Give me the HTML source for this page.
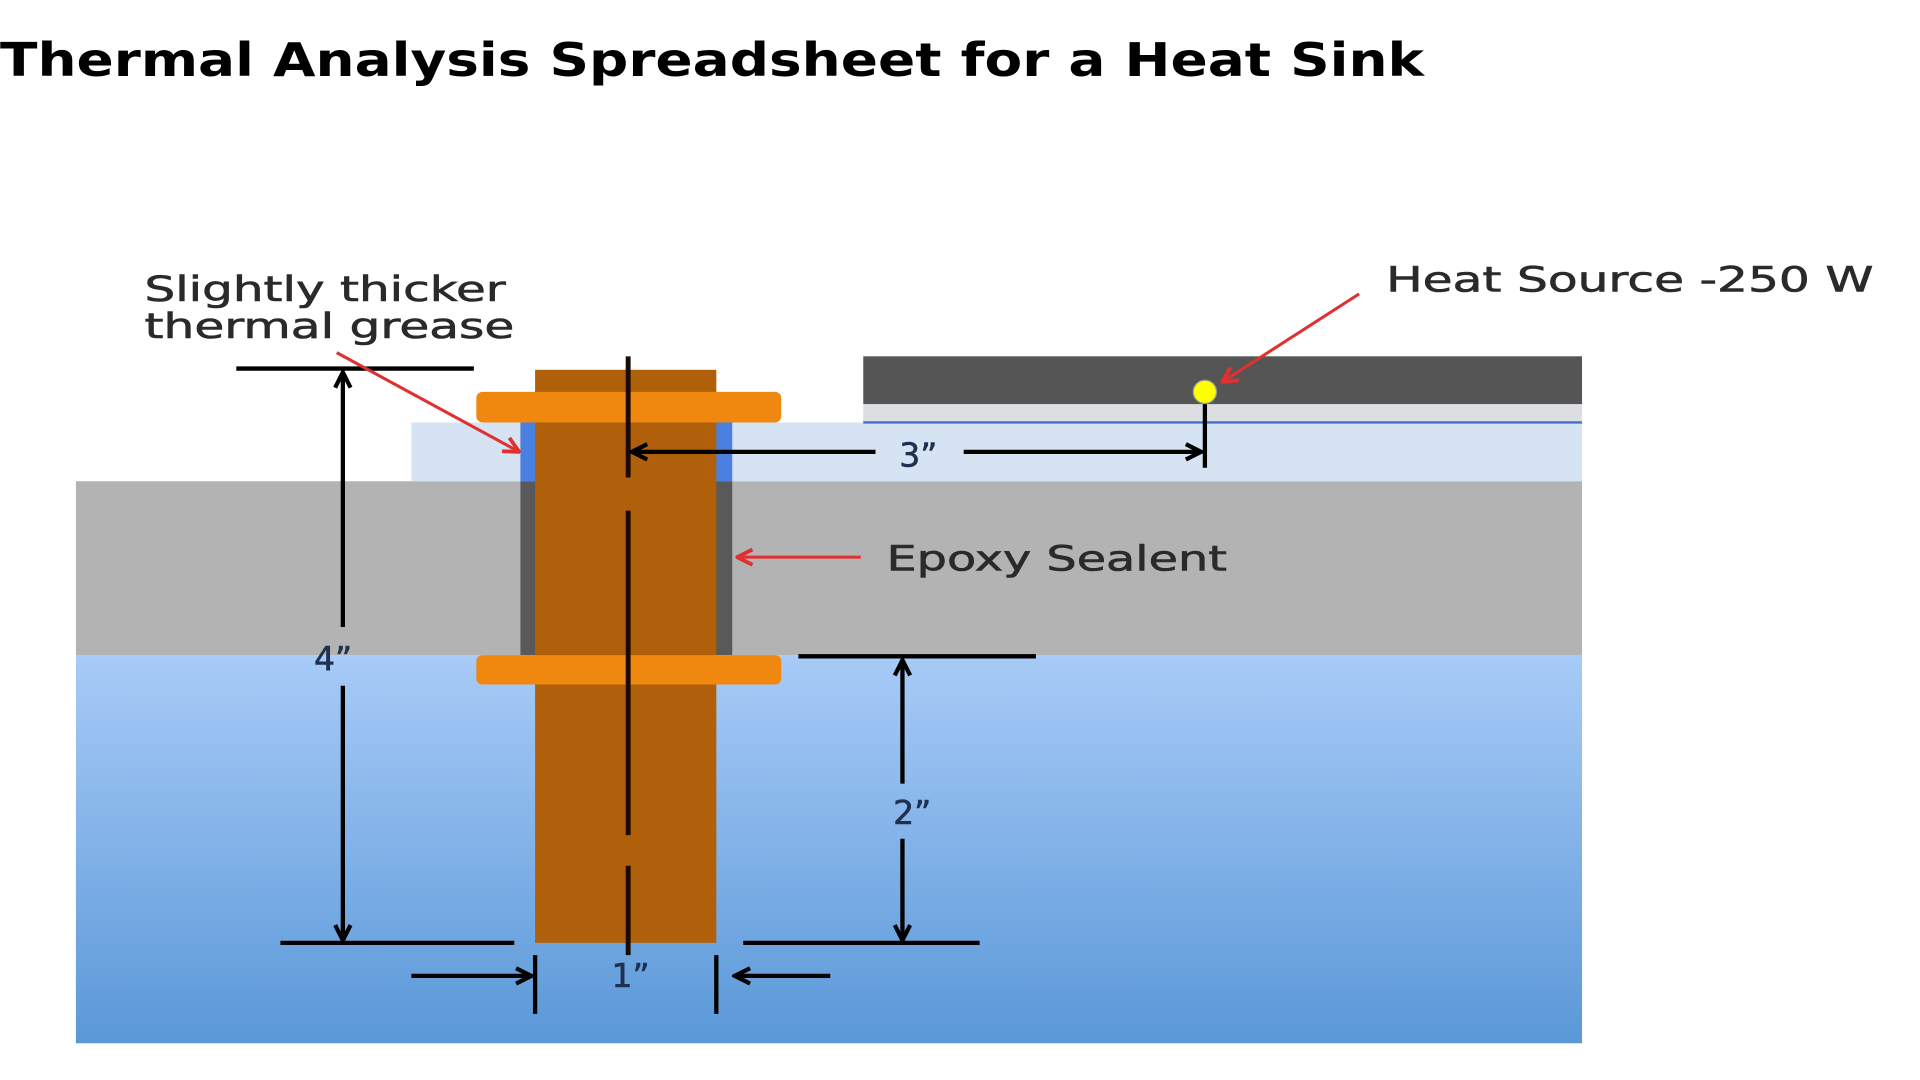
<!DOCTYPE html>
<html><head><meta charset="utf-8"><style>
html,body{margin:0;padding:0;background:#fff;width:1920px;height:1080px;overflow:hidden}
svg{display:block}
</style></head><body>
<svg width="1920" height="1080" viewBox="0 0 1568 882" preserveAspectRatio="none" xmlns="http://www.w3.org/2000/svg">
<defs>
<linearGradient id="w" x1="0" y1="0" x2="0" y2="1">
<stop offset="0" stop-color="#a8cbf7"/><stop offset="1" stop-color="#5a98d8"/>
</linearGradient>
<marker id="ab" viewBox="0 0 14 14" refX="12" refY="7" markerWidth="16" markerHeight="16" markerUnits="userSpaceOnUse" orient="auto"><path d="M1,1.5 L12,7 L1,12.5" fill="none" stroke="#000" stroke-width="3"/></marker>
<marker id="ar" viewBox="0 0 12 12" refX="11" refY="6" markerWidth="15" markerHeight="15" markerUnits="userSpaceOnUse" orient="auto"><path d="M1,1 L11,6 L1,11" fill="none" stroke="#e03030" stroke-width="2.5"/></marker>
</defs>
<text x="0" y="62" font-family="DejaVu Sans, Liberation Sans, sans-serif" font-weight="bold" font-size="38" textLength="1163" lengthAdjust="spacingAndGlyphs" fill="#000">Thermal Analysis Spreadsheet for a Heat Sink</text>

<rect x="62" y="535" width="1230" height="317" fill="url(#w)"/>
<rect x="62" y="393" width="1230" height="142" fill="#b3b3b3"/>
<rect x="336" y="345" width="956" height="48" fill="#d6e3f3"/>
<rect x="705" y="330" width="587" height="15" fill="#dcdee2"/>
<line x1="705" y1="345" x2="1292" y2="345" stroke="#4472c4" stroke-width="2"/>
<rect x="705" y="291" width="587" height="39" fill="#555"/>

<rect x="425" y="345" width="173" height="48" fill="#4a80e0"/>
<rect x="425" y="393" width="173" height="142" fill="#595959"/>
<rect x="437" y="302" width="148" height="468" fill="#b0600a"/>
<rect x="389" y="320" width="249" height="25" rx="5" fill="#f0870f"/>
<rect x="389" y="535" width="249" height="24" rx="5" fill="#f0870f"/>

<g stroke="#1a0a00" stroke-width="4">
<line x1="513" y1="291" x2="513" y2="390"/>
<line x1="513" y1="417" x2="513" y2="682"/>
<line x1="513" y1="707" x2="513" y2="780"/>
</g>

<circle cx="984" cy="320" r="9.5" fill="#ffff00" stroke="#999" stroke-width="1"/>

<g stroke="#000" stroke-width="3.5" fill="none">
<line x1="193" y1="301" x2="387" y2="301"/>
<line x1="280" y1="512" x2="280" y2="304" marker-end="url(#ab)"/>
<line x1="280" y1="560" x2="280" y2="768" marker-end="url(#ab)"/>
<line x1="229" y1="770" x2="420" y2="770"/>
<line x1="715" y1="369" x2="516" y2="369" marker-end="url(#ab)"/>
<line x1="787" y1="369" x2="981" y2="369" marker-end="url(#ab)"/>
<line x1="984" y1="330" x2="984" y2="382"/>
<line x1="652" y1="536" x2="846" y2="536"/>
<line x1="737" y1="640" x2="737" y2="539" marker-end="url(#ab)"/>
<line x1="737" y1="685" x2="737" y2="768" marker-end="url(#ab)"/>
<line x1="607" y1="770" x2="800" y2="770"/>
<line x1="437" y1="780" x2="437" y2="828"/>
<line x1="585" y1="780" x2="585" y2="828"/>
<line x1="336" y1="797" x2="434" y2="797" marker-end="url(#ab)"/>
<line x1="678" y1="797" x2="600" y2="797" marker-end="url(#ab)"/>
</g>

<g stroke="#e03030" stroke-width="2.5" fill="none">
<line x1="275" y1="288" x2="424" y2="369" marker-end="url(#ar)"/>
<line x1="1110" y1="240" x2="998" y2="312" marker-end="url(#ar)"/>
<line x1="703" y1="455" x2="602" y2="455" marker-end="url(#ar)"/>
</g>

<g font-family="DejaVu Sans, Liberation Sans, sans-serif" font-size="28" fill="#2a2a2a" stroke="#2a2a2a" stroke-width="0.5">
<text x="118" y="246" textLength="295" lengthAdjust="spacingAndGlyphs">Slightly thicker</text>
<text x="118" y="276" textLength="302" lengthAdjust="spacingAndGlyphs">thermal grease</text>
<text x="1132" y="238" textLength="398" lengthAdjust="spacingAndGlyphs">Heat Source -250 W</text>
<text x="724" y="466" textLength="278" lengthAdjust="spacingAndGlyphs">Epoxy Sealent</text>
</g>
<g font-family="DejaVu Sans, Liberation Sans, sans-serif" font-size="27" fill="#1f3050" stroke="#1f3050" stroke-width="0.5">
<text x="750" y="381" text-anchor="middle">3”</text>
<text x="272" y="547" text-anchor="middle">4”</text>
<text x="745" y="673" text-anchor="middle">2”</text>
<text x="515" y="806" text-anchor="middle">1”</text>
</g>
</svg>
</body></html>
